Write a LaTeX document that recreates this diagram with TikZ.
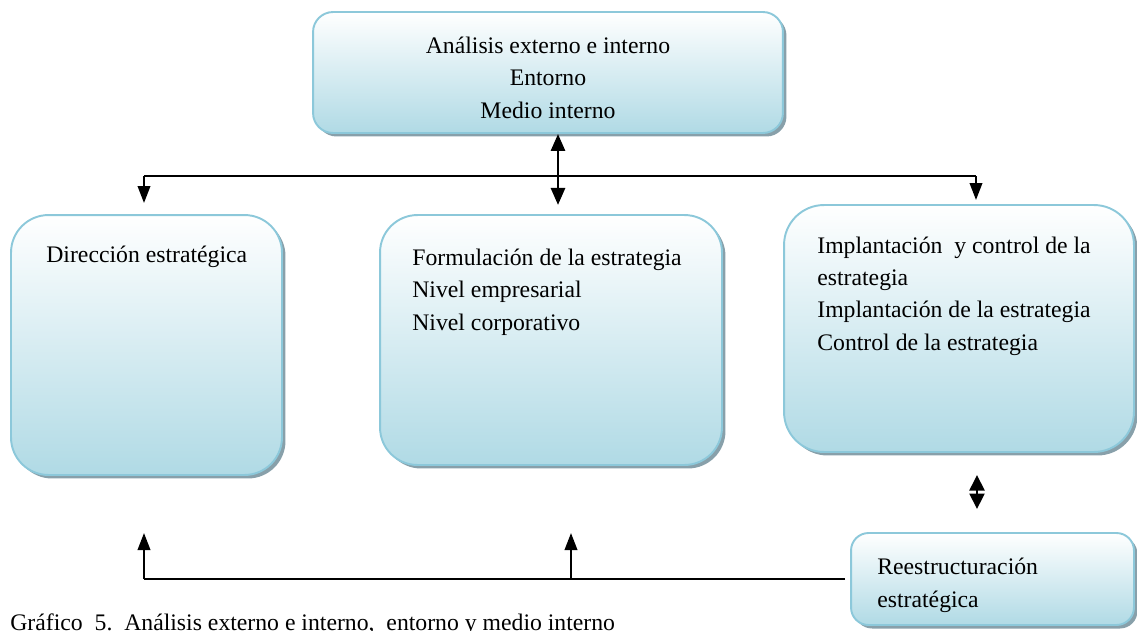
\documentclass[tikz,border=0pt]{standalone}
\usepackage{fontspec}
\setmainfont{Liberation Serif}
\usepackage{tikz}
\usetikzlibrary{arrows.meta,shadows}

\definecolor{boxline}{RGB}{140,200,218}
\definecolor{boxblue}{RGB}{176,218,229}
\definecolor{shadowc}{RGB}{136,160,170}

\begin{document}
\begin{tikzpicture}[x=0.02cm,y=-0.02cm,	%1 unit = 1 px, y downwards
	box/.style={draw=boxline,line width=1.1pt,top color=white,bottom color=boxblue,inner sep=0pt,
		drop shadow={shadow xshift=0.07cm,shadow yshift=-0.07cm,fill=shadowc,opacity=1}},
	txt/.style={inner sep=0pt,align=left,font=\fontsize{13.5pt}{18.4pt}\selectfont},
	conn/.style={line width=1.2pt},
	pointer/.style={conn,-{Triangle[length=0.34cm,width=0.25cm]}},
	twoway/.style={line width=1.6pt,{Triangle[length=0.34cm,width=0.28cm]}-{Triangle[length=0.34cm,width=0.28cm]}}]
	\useasboundingbox (0,0) rectangle (1137,630);
	
	%boxes
	\node[box,rounded corners=0.4cm,minimum width=9.4cm,minimum height=2.42cm] (top) at (548,72.5) {};
	\node[box,rounded corners=0.75cm,minimum width=5.42cm,minimum height=5.2cm] (dir) at (146.5,345) {};
	\node[box,rounded corners=0.75cm,minimum width=6.84cm,minimum height=5cm] (form) at (551,340) {};
	\node[box,rounded corners=0.8cm,minimum width=7cm,minimum height=4.94cm] (impl) at (959,328.5) {};
	\node[box,rounded corners=0.35cm,minimum width=5.66cm,minimum height=1.84cm] (rees) at (992.5,579) {};
	
	%texts (base = baseline of the last line)
	\node[txt,align=center,anchor=base] (toptxt) at (548,118) {Análisis externo e interno\\Entorno\\Medio interno};
	\node[txt,anchor=base west] (dirtxt) at (46,262) {Dirección estratégica};
	\node[txt,anchor=base west] (formtxt) at (412,330) {Formulación de la estrategia\\Nivel empresarial\\Nivel corporativo};
	\node[txt,anchor=base west] (impltxt) at (817,350) {Implantación\ \ y control de la\\estrategia\\Implantación de la estrategia\\Control de la estrategia};
	\node[txt,anchor=base west] (reestxt) at (877,607) {Reestructuración\\estratégica};
	\node[txt,anchor=base west] (caption) at (10,630) {Gráfico\ \ 5.\ \ Análisis externo e interno,\ \ entorno y medio interno};
	
	%upper connectors
	\coordinate (tl) at (144,176);
	\coordinate (tr) at (976,176);
	\coordinate (tm) at (558,176);
	\draw[conn] (tl) -- (tr);
	\draw[pointer] (tl) -- ++(0,27);
	\draw[pointer] (tr) -- ++(0,24);
	\draw[twoway] (top.south -| tm) -- ++(0,71);
	
	%lower connectors
	\coordinate (bl) at (144,579);
	\coordinate (bm) at (571,579);
	\coordinate (rm) at (977,492);
	\draw[conn] (rees.west) ++(-0.1cm,0) -- (bl);
	\draw[pointer] (bl) -- ++(0,-46);
	\draw[pointer] (bm) -- ++(0,-46);
	\draw[line width=1.2pt,{Triangle[length=0.31cm,width=0.3cm]}-{Triangle[length=0.31cm,width=0.3cm]}] ([yshift=0.34cm]rm) -- ([yshift=-0.34cm]rm);
\end{tikzpicture}
\end{document}
